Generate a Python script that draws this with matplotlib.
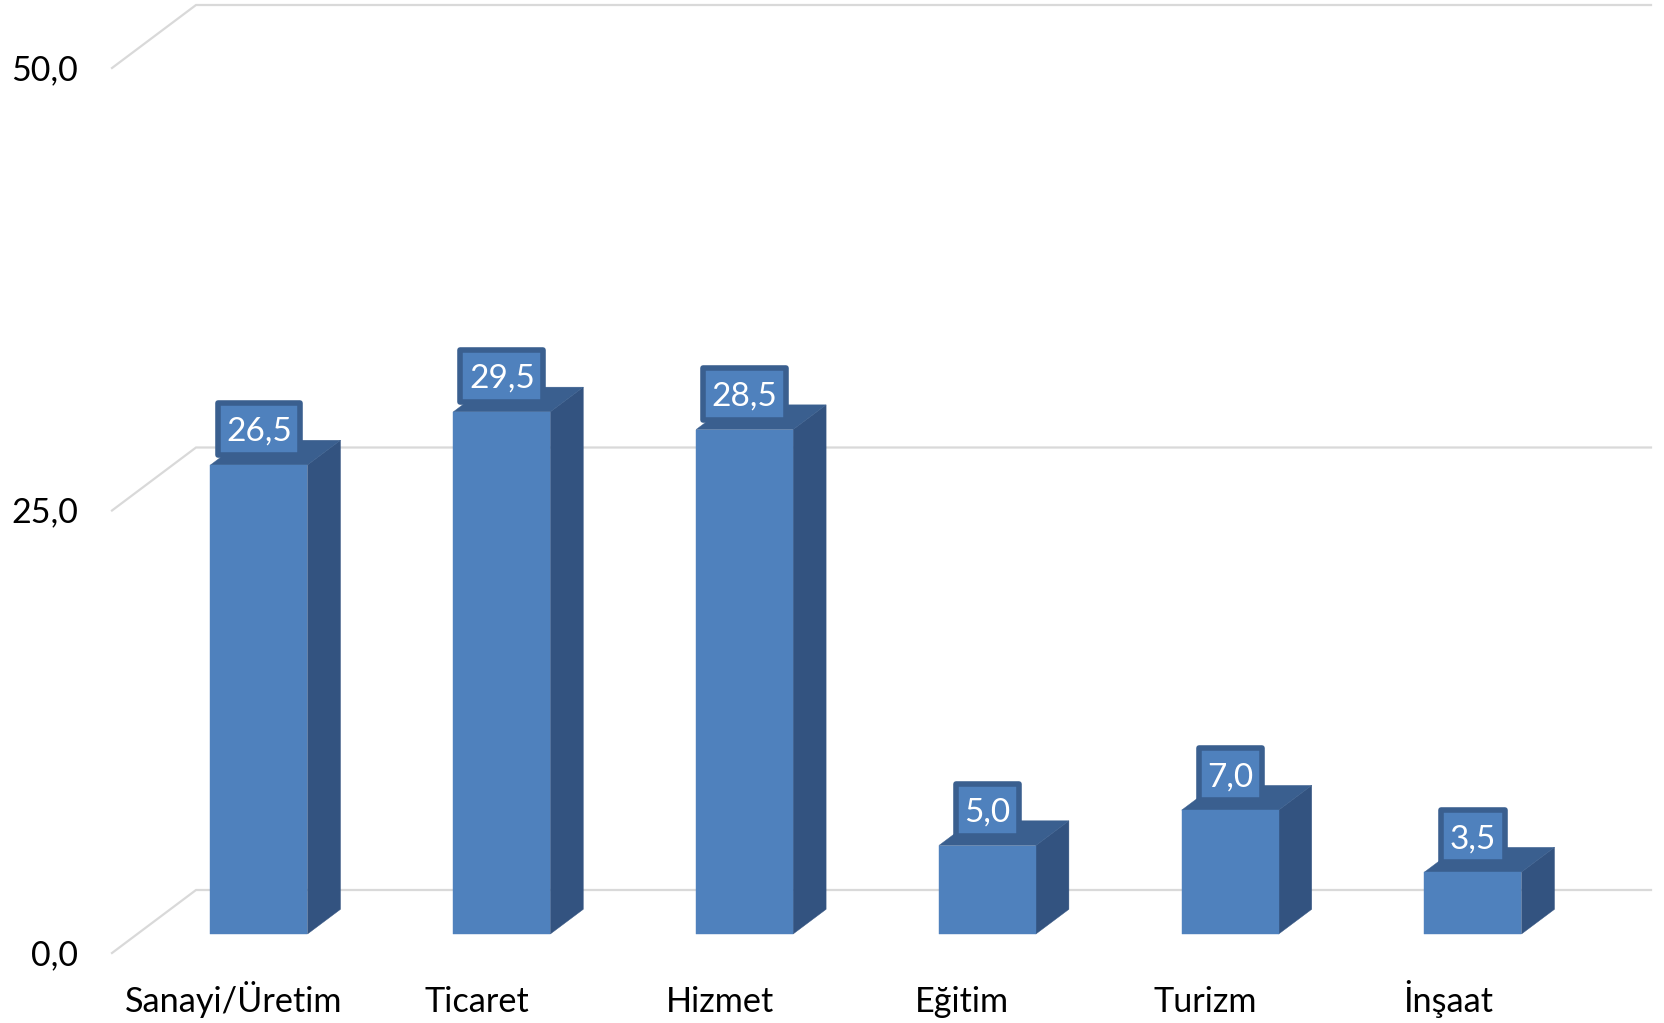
import matplotlib
matplotlib.use('Agg')
import matplotlib.pyplot as plt
from matplotlib.patches import Polygon, Rectangle

plt.rcParams['font.family'] = ['Lato', 'DejaVu Sans']

# Data
categories = ['Sanayi/Üretim', 'Ticaret', 'Hizmet', 'Eğitim', 'Turizm', 'İnşaat']
values = [26.5, 29.5, 28.5, 5.0, 7.0, 3.5]
value_labels = ['26,5', '29,5', '28,5', '5,0', '7,0', '3,5']
grid_values = [0, 25, 50]
grid_labels = ['0,0', '25,0', '50,0']

# Colours
front_color = '#4F81BD'
side_color = '#335380'
top_color = '#3A5F8F'
grid_color = '#D9D9D9'

W, H = 1665, 1023
PX_X = 242.8   # pixels per category
PX_Y = 17.7    # pixels per value unit
X0 = 259.0     # pixel of first bar centre
Y0 = 934       # pixel of bar baseline

fig = plt.figure(figsize=(W / 100, H / 100), dpi=100, facecolor='white')
ax = fig.add_axes([0, 0, 1, 1])
ax.set_xlim(-X0 / PX_X, (W - X0) / PX_X)
ax.set_ylim((Y0 - H) / PX_Y, Y0 / PX_Y)
ax.axis('off')

bar_w = 97 / PX_X
depth_x = 33 / PX_X
depth_y = 24.7 / PX_Y

# Walls: gridlines run along the back, then slant to the front
back_left = (196 - X0) / PX_X
front_left = (112 - X0) / PX_X
right_end = (1651 - X0) / PX_X
back_dy = 44 / PX_Y
front_dy = -19 / PX_Y

for v, lab in zip(grid_values, grid_labels):
    ax.plot([front_left, back_left, right_end],
            [v + front_dy, v + back_dy, v + back_dy],
            color=grid_color, lw=1.6, zorder=1, solid_joinstyle='miter')
    ax.text((78 - X0) / PX_X, v + front_dy - 12 / PX_Y, lab, ha='right', va='baseline',
            fontsize=24.5, color='black')

# Bars: front face from bar(), side and top as polygons
for i, v in enumerate(values):
    left = i - bar_w / 2
    right = i + bar_w / 2
    ax.add_patch(Polygon([(right, 0), (right + depth_x, depth_y),
                          (right + depth_x, v + depth_y), (right, v)],
                         closed=True, facecolor=side_color, edgecolor=side_color, lw=0.3, zorder=2))
    ax.add_patch(Polygon([(left, v), (left + depth_x, v + depth_y),
                          (right + depth_x, v + depth_y), (right, v)],
                         closed=True, facecolor=top_color, edgecolor=top_color, lw=0.3, zorder=2))
ax.bar(range(len(values)), values, width=bar_w, color=front_color,
       edgecolor=front_color, linewidth=0.3, zorder=3)

# Value labels: box sized from the text, outline drawn with round joins
renderer = fig.canvas.get_renderer()
for i, (v, lab) in enumerate(zip(values, value_labels)):
    t = ax.text(i, v + 24 / PX_Y, lab, ha='center', va='baseline', fontsize=24,
                color='white', zorder=6)
    box_w = (t.get_window_extent(renderer).width + 17) / PX_X
    ax.add_patch(Rectangle((i - box_w / 2, v + 10 / PX_Y), box_w, 52 / PX_Y,
                           facecolor=front_color, edgecolor=top_color, linewidth=4.0,
                           joinstyle='round', zorder=5))

# Category labels sit a little left of their bars
for i, c in enumerate(categories):
    ax.text(i - 25 / PX_X, -78 / PX_Y, c, ha='center', va='baseline',
            fontsize=24.7, color='black')

fig.savefig('out.png', dpi=100, facecolor='white')
